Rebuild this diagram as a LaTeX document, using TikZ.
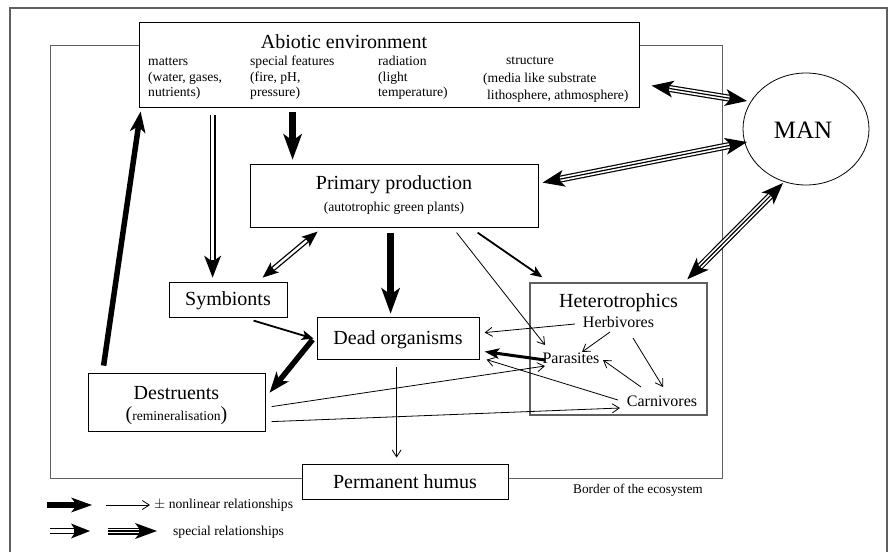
\documentclass[tikz,border=0pt]{standalone}
\usepackage{fontspec}
\setmainfont{Liberation Serif}
\usetikzlibrary{arrows.meta,shapes.geometric,calc}
\definecolor{framegray}{RGB}{95,95,95}
\tikzset{
 box/.style={draw=black,line width=0.8pt,fill=white,inner sep=0pt},
 graybox/.style={draw=framegray,line width=1.4pt,fill=white,inner sep=0pt},
 txt/.style={inner sep=0pt,anchor=base},
 lbltwenty/.style={txt,font=\fontsize{20}{24}\selectfont},
 lblman/.style={txt,font=\fontsize{25}{30}\selectfont},
 lblsixteen/.style={txt,font=\fontsize{16}{19}\selectfont},
 lblsmall/.style={txt,font=\fontsize{13.6}{16}\selectfont},
 lblsmallw/.style={lblsmall,anchor=base west},
 boldarr/.style={line width=7pt,-{Stealth[length=26pt,width=19pt,inset=7pt,line width=0pt]}},
 boldarrs/.style={line width=5.5pt,-{Stealth[length=21pt,width=16pt,inset=6pt,line width=0pt]}},
 legbold/.style={line width=6pt,-{Stealth[length=21pt,width=15pt,inset=6pt,line width=0pt]}},
 paraarr/.style={line width=3pt,-{Stealth[length=15pt,width=11pt,inset=4pt,line width=0pt]}},
 medarr/.style={line width=1.8pt,-{Stealth[length=12pt,width=10pt,inset=3pt,line width=0pt]}},
 thinarr/.style={line width=0.8pt,-{Straight Barb[length=7pt,width=9pt]}},
 dblout/.style={line width=6pt},
 dblin/.style={white,line width=3.2pt},
 dbloutsm/.style={line width=5pt},
 dblinsm/.style={white,line width=2.4pt},
 triout/.style={line width=7pt},
 trimid/.style={white,line width=4.6pt},
 tricore/.style={black,line width=1.2pt},
 tritips/.style={{Stealth[length=22pt,width=17pt,inset=6pt,line width=0pt]}-{Stealth[length=22pt,width=17pt,inset=6pt,line width=0pt]}},
 framestyle/.style={draw=framegray,line width=1.3pt},
 borderstyle/.style={draw=framegray,line width=1pt}
}
\newcommand{\myTriArrow}[2]{%
  \draw[triout,tritips] #1 -- #2;
  \draw[trimid,shorten >=18pt,shorten <=18pt] #1 -- #2;
  \draw[tricore,shorten >=18pt,shorten <=18pt] #1 -- #2;
}
\begin{document}
\begin{tikzpicture}[x=1pt,y=-1pt]
\useasboundingbox (0,0) rectangle (888,552);
\fill[white] (0,0) rectangle (888,552);
% outer frame and ecosystem border
\draw[framestyle] (10,552) -- (10,8) -- (887,8) -- (887,552);
\draw[borderstyle] (50,45) rectangle (722,478);

% boxes
\node[box,minimum width=500pt,minimum height=85pt] (abio) at (389,64.5) {};
\node[box,minimum width=288pt,minimum height=63pt] (prim) at (394,195.5) {};
\node[box,minimum width=118pt,minimum height=35pt] (symb) at (228,299.5) {};
\node[box,minimum width=162pt,minimum height=42pt] (dead) at (398,338) {};
\node[box,minimum width=177pt,minimum height=58pt] (dest) at (176.5,402) {};
\node[graybox,minimum width=177pt,minimum height=132pt] (het) at (618.5,349) {};
\node[box,minimum width=206pt,minimum height=35pt] (hum) at (405,481.5) {};
\node[draw,ellipse,line width=0.8pt,fill=white,inner sep=0pt,minimum width=126pt,minimum height=112pt] (man) at (806,129) {};

% texts
\node[lbltwenty] (abiot) at (344,48) {Abiotic environment};
\node[lblsmallw] (ab1) at (148,65.5) {matters};
\node[lblsmallw] (ab2) at (148,81) {(water, gases,};
\node[lblsmallw] (ab3) at (148,96.5) {nutrients)};
\node[lblsmallw] (ab4) at (250,65.5) {special features};
\node[lblsmallw] (ab5) at (250,81) {(fire, pH,};
\node[lblsmallw] (ab6) at (250,96.5) {pressure)};
\node[lblsmallw] (ab7) at (378,65.5) {radiation};
\node[lblsmallw] (ab8) at (378,81) {(light};
\node[lblsmallw] (ab9) at (378,96.5) {temperature)};
\node[lblsmallw] (ab10) at (506,64) {structure};
\node[lblsmallw] (ab11) at (483,82) {(media like substrate};
\node[lblsmallw] (ab12) at (487,99) {lithosphere, athmosphere)};
\node[lbltwenty] (primt) at (394,189) {Primary production};
\node[lblsmall] (prims) at (394,211) {(autotrophic green plants)};
\node[lbltwenty] (symbt) at (228,305.5) {Symbionts};
\node[lbltwenty] (deadt) at (398,344) {Dead organisms};
\node[lbltwenty] (destt) at (176.5,399.5) {Destruents};
\node[txt] (dests) at (176.5,420.5) {{\fontsize{20}{24}\selectfont(}{\fontsize{13.6}{16}\selectfont remineralisation}{\fontsize{20}{24}\selectfont)}};
\node[lbltwenty] (hett) at (618.5,307) {Heterotrophics};
\node[lblsixteen] (herb) at (618.5,327) {Herbivores};
\node[lblsixteen] (para) at (571,363.5) {Parasites};
\node[lblsixteen] (carn) at (662,406) {Carnivores};
\node[lbltwenty] (humt) at (405,488.3) {Permanent humus};
\node[lblman] (mant) at (803,138.3) {MAN};
\node[lblsmall,font=\fontsize{13.3}{16}\selectfont] (bord) at (638,493.3) {Border of the ecosystem};
\node[lblsmallw] (leg1) at (154,508.3) {$\pm$ nonlinear relationships};
\node[lblsmallw] (leg2) at (173,535) {special relationships};

% bold arrows
\draw[boldarr] ($(abio.north west)+(154,90)$) -- ($(prim.north west)+(43,-4)$);
\draw[boldarr] ($(prim.north west)+(141,69)$) -- ($(dead.north west)+(74,-3)$);
\draw[boldarrs] ($(dest.north west)+(16,-7)$) -- ($(abio.north west)+(2,90)$);
\draw[boldarrs] ($(dead.north west)+(-4,23)$) -- ($(dest.north west)+(182,20)$);
\draw[paraarr] ($(para.base)+(-26,-3.5)$) -- ($(dead.north west)+(168,35)$);
\draw[medarr] ($(prim.north west)+(228,69)$) -- ($(het.north west)+(13,-5)$);
\draw[medarr] ($(symb.north west)+(85,39)$) -- ($(dead.north west)+(-3,22)$);

% thin arrows
\draw[thinarr] ($(prim.north west)+(207,69)$) -- ($(para.base)+(-26,-18.5)$);
\draw[thinarr] ($(herb.base)+(-43.5,-3)$) -- ($(dead.north west)+(168,16)$);
\draw[thinarr] ($(carn.base)+(-44,-6)$) -- ($(dead.north west)+(170,43)$);
\draw[thinarr] ($(dest.north west)+(184,34)$) -- ($(para.base)+(-26,2.5)$);
\draw[thinarr] ($(dest.north west)+(184,49)$) -- ($(carn.base)+(-42,2)$);
\draw[thinarr] ($(dead.north west)+(80,50)$) -- ($(hum.north west)+(95,-6)$);
\draw[thinarr] ($(herb.base)+(-8.5,5)$) -- ($(para.base)+(11,-11.5)$);
\draw[thinarr] ($(herb.base)+(14.5,11)$) -- ($(carn.base)+(1,-19)$);
\draw[thinarr] ($(carn.base)+(-21,-19)$) -- ($(para.base)+(32,-3.5)$);

% double arrows
\draw[dblout,-{Stealth[length=22pt,width=17pt,inset=6pt,line width=0pt]}] ($(abio.north west)+(74,93)$) -- ($(symb.north west)+(44,-4)$);
\draw[dblin,shorten >=18pt] ($(abio.north west)+(74,93)$) -- ($(symb.north west)+(44,-4)$);
\draw[dbloutsm,{Stealth[length=16pt,width=13pt,inset=4pt,line width=0pt]}-{Stealth[length=16pt,width=13pt,inset=4pt,line width=0pt]}] ($(prim.north west)+(68,68)$) -- ($(symb.north west)+(94,-4)$);
\draw[dblinsm,shorten >=14pt,shorten <=14pt] ($(prim.north west)+(68,68)$) -- ($(symb.north west)+(94,-4)$);

% triple arrows to MAN
\myTriArrow{($(abio.north west)+(513,64)$)}{($(man.center)+(-59,-28)$)}
\myTriArrow{($(prim.north west)+(293,19)$)}{($(man.center)+(-59,13)$)}
\myTriArrow{($(het.north west)+(158,-3)$)}{($(man.center)+(-23,54)$)}

% legend
\coordinate (lga) at (47,505); \coordinate (lgb) at (92,505);
\draw[legbold] (lga) -- (lgb);
\coordinate (lgc) at (106,505); \coordinate (lgd) at (150,505);
\draw[thinarr] (lgc) -- (lgd);
\coordinate (lge) at (50,531); \coordinate (lgf) at (90,531);
\draw[dblout,-{Stealth[length=19pt,width=15pt,inset=5pt,line width=0pt]}] (lge) -- (lgf);
\draw[dblin,shorten >=16pt] (lge) -- (lgf);
\coordinate (lgg) at (108,531); \coordinate (lgh) at (157,531);
\draw[triout,-{Stealth[length=22pt,width=16pt,inset=6pt,line width=0pt]}] (lgg) -- (lgh);
\draw[trimid,shorten >=18pt] (lgg) -- (lgh);
\draw[tricore,shorten >=18pt] (lgg) -- (lgh);
\end{tikzpicture}
\end{document}
